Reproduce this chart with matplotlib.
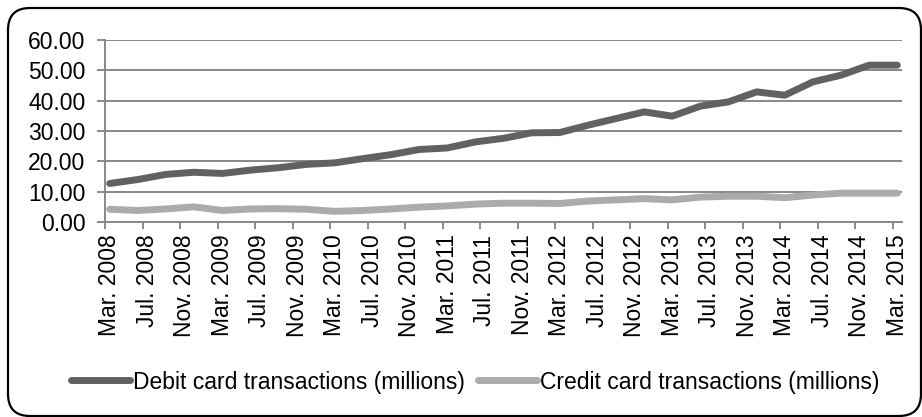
import numpy as np
import matplotlib
matplotlib.use("Agg")
import matplotlib.pyplot as plt
from matplotlib import font_manager as fm
from matplotlib.patches import FancyBboxPatch
from matplotlib.lines import Line2D

# quarterly figures, Mar. 2008 .. Mar. 2015
DEBIT = [12.7, 14.0, 15.7, 16.4, 16.0, 17.1, 17.9, 19.0, 19.5, 20.9, 22.2, 23.9, 24.4, 26.4, 27.6,
         29.4, 29.5, 31.9, 34.1, 36.3, 34.9, 38.2, 39.6, 42.9, 41.8, 46.2, 48.4, 51.7, 51.7]
CREDIT = [4.2, 3.8, 4.3, 5.0, 3.8, 4.3, 4.4, 4.2, 3.5, 3.8, 4.3, 4.9, 5.3, 5.9, 6.2,
          6.2, 6.1, 6.9, 7.3, 7.7, 7.3, 8.2, 8.5, 8.5, 8.0, 8.9, 9.5, 9.5, 9.5]
TICK_LABELS = ["Mar. 2008", "Jul. 2008", "Nov. 2008", "Mar. 2009", "Jul. 2009", "Nov. 2009",
               "Mar. 2010", "Jul. 2010", "Nov. 2010", "Mar. 2011", "Jul. 2011", "Nov. 2011",
               "Mar. 2012", "Jul. 2012", "Nov. 2012", "Mar. 2013", "Jul. 2013", "Nov. 2013",
               "Mar. 2014", "Jul. 2014", "Nov. 2014", "Mar. 2015"]
SERIES = ["Debit card transactions (millions)", "Credit card transactions (millions)"]
COLORS = ["#616161", "#ababab"]
GRID = "#888888"
FS = 16.5

# regular-width Liberation Sans (skip the Narrow cut)
regular = [f.fname for f in fm.fontManager.ttflist
           if f.name.startswith("Liberation Sans") and "narrow" not in f.fname.lower()
           and f.style == "normal" and f.weight in (400, "normal", "regular")]
if regular:
    fm.fontManager.addfont(regular[0])
    plt.rcParams["font.family"] = [fm.FontProperties(fname=regular[0]).get_name(), "DejaVu Sans"]
else:
    plt.rcParams["font.family"] = ["Liberation Sans", "DejaVu Sans"]
FONT = fm.FontProperties(fname=regular[0], size=FS) if regular else fm.FontProperties(size=FS)

fig = plt.figure(figsize=(9.22, 4.17), dpi=100)
ax = fig.add_axes([105 / 922, 1 - 222 / 417, 797 / 922, 182 / 417])

# month index: data every 3 months, labels every 4 months
xq = np.arange(len(DEBIT)) * 3
xt = np.arange(len(TICK_LABELS)) * 4
for ys, c in zip([DEBIT, CREDIT], COLORS):
    ax.plot(xq, ys, color=c, lw=5, solid_capstyle="round", solid_joinstyle="round", zorder=3)

ax.set_xlim(-0.5, xq[-1] + 0.5)
ax.set_ylim(0, 60)
ax.set_yticks(np.arange(0, 61, 10))
ax.set_yticklabels([f"{v:.2f}" for v in range(0, 61, 10)], fontproperties=FONT)
ax.yaxis.grid(True, color=GRID, lw=1.4)
ax.set_axisbelow(True)

# ticks on month boundaries, labels centred on the month
ax.set_xticks(xt - 0.5)
ax.set_xticklabels([])
ax.set_xticks(xt, minor=True)
ax.set_xticklabels(TICK_LABELS, minor=True, rotation=90, fontproperties=FONT)
ax.tick_params(axis="x", which="major", length=5, width=1.4, color=GRID)
ax.tick_params(axis="x", which="minor", length=0, pad=9)
ax.tick_params(axis="y", length=6, width=1.4, color=GRID, pad=8)

for s in ["top", "right"]:
    ax.spines[s].set_visible(False)
for s in ["left", "bottom"]:
    ax.spines[s].set_color(GRID)
    ax.spines[s].set_linewidth(1.4)

handles = [Line2D([], [], color=c, lw=5, solid_capstyle="round") for c in COLORS]
fig.legend(handles, SERIES, loc="center", bbox_to_anchor=(475 / 922, 1 - 382 / 417), ncol=2,
           frameon=False, prop=FONT, handlelength=2.6, handletextpad=0.12, columnspacing=0.55,
           borderpad=0, borderaxespad=0)

# rounded outer frame
frame = FancyBboxPatch((8 + 22, 1 + 22), 913 - 44, 408 - 44, boxstyle="round,pad=22",
                       transform=None, fill=False, ec="black", lw=1.6)
fig.patches.append(frame)

fig.savefig("out.png", dpi=100)
